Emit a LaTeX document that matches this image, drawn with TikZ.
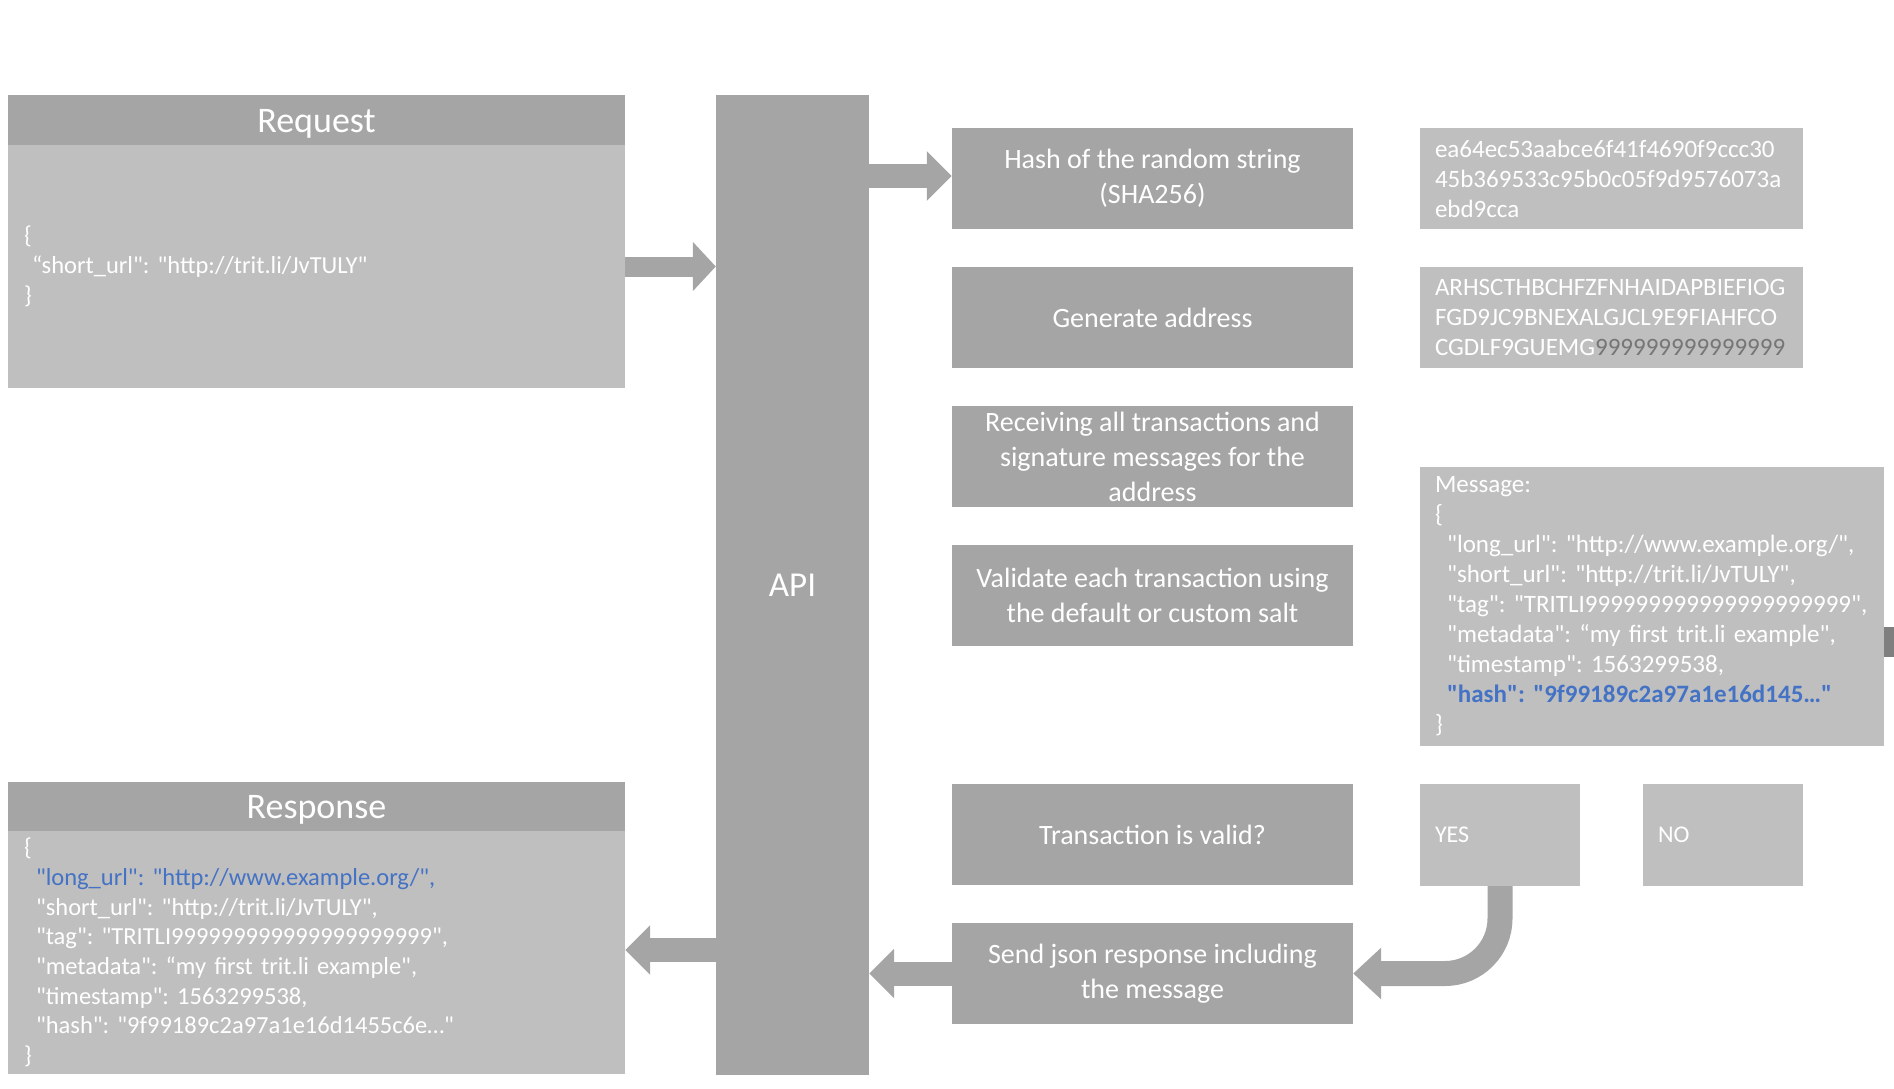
\documentclass[tikz,border=0pt]{standalone}
\usepackage{fontspec}
\setmainfont{Carlito}[Ligatures=TeXOff]
\usetikzlibrary{arrows.meta}

\definecolor{boxdark}{HTML}{A5A5A5}
\definecolor{boxlight}{HTML}{BFBFBF}
\definecolor{hashblue}{HTML}{4472C4}
\definecolor{ninegray}{HTML}{767676}
\definecolor{markgray}{HTML}{7F7F7F}

\frenchspacing

\begin{document}
\begin{tikzpicture}[x=1pt,y=-1pt]

\tikzset{stepbox/.style = {fill=boxdark, text=white, minimum width=401pt, minimum height=101pt, inner sep=0pt, align=center, font=\fontsize{28}{35}\selectfont}}
\tikzset{valbox/.style = {fill=boxlight, text=white, inner xsep=15pt, inner ysep=0pt, align=left, font=\fontsize{25}{30}\selectfont}}
\tikzset{headbox/.style = {fill=boxdark, text=white, minimum width=617pt, minimum height=50pt, inner sep=0pt, text height=26pt, text depth=2pt, font=\fontsize{36}{40}\selectfont}}
\tikzset{jsonbox/.style = {fill=boxlight, text=white, text width=585pt, minimum height=243pt, inner xsep=16pt, inner ysep=0pt, align=left, font=\fontsize{24.5}{29.7}\selectfont}}
\tikzset{block/.style = {draw=boxdark, line width=24pt, -{Triangle[length=25pt, width=48pt]}}}

\useasboundingbox (0,0) rectangle (1894,1088);

% request and response
\node[headbox] (req) at (316.5,120) {Request};
\node[jsonbox] (reqbody) at (316.5,266.5) {\{\\ \hspace*{8pt}“short\_url": "http://trit.li/JvTULY"\\ \}};

\node[headbox] (resp) at (316.5,806.5) {Response};
\node[jsonbox] (respbody) at (316.5,952.5) {\{\\
  \hspace*{12pt}{\color{hashblue}"long\_url": "http://www.example.org/",}\\
  \hspace*{12pt}"short\_url": "http://trit.li/JvTULY",\\
  \hspace*{12pt}"tag": "TRITLI999999999999999999999",\\
  \hspace*{12pt}"metadata": “my first trit.li example",\\
  \hspace*{12pt}"timestamp": 1563299538,\\
  \hspace*{12pt}"hash": "9f99189c2a97a1e16d1455c6e…"\\
  \}};

% api
\node[fill=boxdark, text=white, minimum width=153pt, minimum height=980pt, inner sep=0pt, font=\fontsize{35}{40}\selectfont] (api) at (792.5,585) {API};

% steps
\node[stepbox] (hash) at (1152.5,178.5) {Hash of the random string\\(SHA256)};
\node[stepbox] (addr) at (1152.5,317.5) {Generate address};
\node[stepbox] (recv) at (1152.5,456.5) {Receiving all transactions and\\signature messages for the\\address};
\node[stepbox] (check) at (1152.5,595.5) {Validate each transaction using\\the default or custom salt};
\node[stepbox] (valid) at (1152.5,834.5) {Transaction is valid?};
\node[stepbox] (send) at (1152.5,973.5) {Send json response including\\the message};

% values
\node[valbox, text width=353pt, minimum height=101pt] (hashval) at (1611.5,178.5) {ea64ec53aabce6f41f4690f9ccc30\\45b369533c95b0c05f9d9576073a\\ebd9cca};
\node[valbox, text width=353pt, minimum height=101pt] (addrval) at (1611.5,317.5) {ARHSCTHBCHFZFNHAIDAPBIEFIOG\\FGD9JC9BNEXALGJCL9E9FIAHFCO\\CGDLF9GUEMG{\color{ninegray}999999999999999}};
\node[valbox, text width=434pt, minimum height=279pt] (msg) at (1652,606.5) {Message:\\
  \{\\
  \hspace*{12pt}"long\_url":~"http://www.example.org/",\\
  \hspace*{12pt}"short\_url": "http://trit.li/JvTULY",\\
  \hspace*{12pt}"tag":~"TRITLI999999999999999999999",\\
  \hspace*{12pt}"metadata": “my first trit.li example",\\
  \hspace*{12pt}"timestamp": 1563299538,\\
  \hspace*{12pt}{\bfseries\color{hashblue}"hash":~"9f99189c2a97a1e16d145…"}\\
  \}};
\node[valbox, text width=130pt, minimum height=102pt, font=\fontsize{24}{28}\selectfont] (yes) at (1500,835) {YES};
\node[valbox, text width=130pt, minimum height=102pt, font=\fontsize{24}{28}\selectfont] (no) at (1723,835) {NO};

\fill[markgray] (1884,627) rectangle (1894,657);

% arrows
\draw[block, line width=20pt, -{Triangle[length=23pt, width=48pt]}] (reqbody.east) -- (reqbody.east -| api.west);
\draw[block] (api.east |- 0,176) -- (hash.west |- 0,176);
\draw[block] (api.west |- 0,950) -- (respbody.east |- 0,950);
\draw[block] (send.west) -- (send.west -| api.east);
\draw[block, line width=25pt, rounded corners=55pt, -{Triangle[length=28pt, width=50pt]}] (yes.south) |- (send.east);

\end{tikzpicture}
\end{document}
